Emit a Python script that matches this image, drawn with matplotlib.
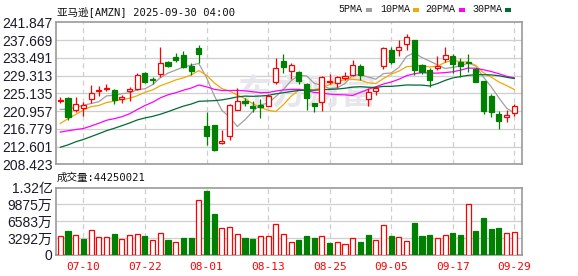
import numpy as np
import pandas as pd
import matplotlib
matplotlib.use("Agg")
import matplotlib.pyplot as plt
from matplotlib.patches import Rectangle

# 交易日 07-07 ~ 09-29
dates = ["07-07", "07-08", "07-09", "07-10", "07-11", "07-14", "07-15", "07-16", "07-17", "07-18",
         "07-21", "07-22", "07-23", "07-24", "07-25", "07-28", "07-29", "07-30", "07-31", "08-01",
         "08-04", "08-05", "08-06", "08-07", "08-08", "08-11", "08-12", "08-13", "08-14", "08-15",
         "08-18", "08-19", "08-20", "08-21", "08-22", "08-25", "08-26", "08-27", "08-28", "08-29",
         "09-02", "09-03", "09-04", "09-05", "09-08", "09-09", "09-10", "09-11", "09-12", "09-15",
         "09-16", "09-17", "09-18", "09-19", "09-22", "09-23", "09-24", "09-25", "09-26", "09-29"]

open_ = [223.35, 224.10, 221.26, 221.72, 223.87, 225.56, 226.10, 226.00, 223.72, 225.56,
         226.17, 230.00, 228.47, 229.62, 232.46, 233.61, 234.22, 231.61, 235.83, 217.51,
         217.58, 213.44, 215.13, 221.26, 223.41, 222.03, 222.34, 222.26, 227.78, 232.69,
         230.46, 230.23, 227.40, 222.80, 223.18, 227.70, 227.55, 228.70, 229.47, 231.54,
         223.87, 225.56, 231.54, 235.37, 235.37, 236.75, 237.75, 231.77, 230.62, 231.00,
         233.22, 233.84, 232.53, 232.40, 230.85, 228.09, 224.41, 220.27, 219.50, 220.42]
high = [224.30, 224.20, 224.33, 223.10, 227.17, 226.78, 227.30, 226.25, 224.64, 226.55,
        229.93, 230.20, 228.93, 236.14, 232.69, 234.60, 235.06, 232.15, 236.60, 220.65,
        217.74, 216.59, 222.64, 226.48, 224.03, 223.33, 223.72, 225.02, 233.45, 234.40,
        232.15, 230.46, 227.55, 222.95, 229.24, 229.62, 229.24, 230.08, 232.92, 232.00,
        226.40, 226.94, 235.98, 236.14, 237.67, 239.05, 237.75, 231.92, 231.15, 233.84,
        236.14, 234.45, 233.53, 234.30, 231.00, 228.09, 224.87, 220.88, 221.26, 222.72]
low = [222.80, 218.90, 220.65, 219.90, 222.95, 224.60, 225.60, 222.50, 222.95, 223.30,
       226.00, 227.55, 227.24, 229.08, 231.38, 232.46, 231.15, 229.47, 232.15, 212.90,
       211.60, 213.14, 214.13, 221.10, 222.18, 220.65, 219.42, 222.03, 227.32, 230.00,
       228.47, 227.40, 221.26, 220.80, 221.03, 227.40, 226.40, 228.16, 229.24, 228.32,
       222.18, 224.64, 230.92, 231.92, 233.84, 235.37, 229.47, 229.62, 226.55, 230.62,
       232.53, 229.85, 229.08, 230.08, 227.70, 220.27, 219.65, 216.67, 218.35, 219.73]
close = [223.55, 219.65, 222.72, 222.40, 225.25, 225.86, 226.35, 223.56, 224.18, 226.17,
         229.47, 227.70, 228.32, 232.38, 231.61, 233.00, 231.38, 230.46, 234.30, 215.05,
         211.84, 213.98, 222.49, 223.26, 222.95, 221.57, 221.80, 224.48, 231.00, 231.38,
         231.77, 228.09, 223.95, 222.26, 228.93, 228.00, 228.93, 229.24, 231.77, 229.47,
         225.48, 226.32, 235.83, 232.53, 235.98, 238.44, 230.62, 230.23, 228.32, 231.54,
         234.22, 231.92, 231.61, 232.15, 227.86, 221.03, 220.65, 218.58, 220.04, 222.18]
# 成交量(股)
volume = np.array([36.8, 46.5, 38.1, 31.0, 49.7, 34.2, 34.2, 40.7, 31.0, 38.1,
                   40.0, 36.8, 28.4, 42.0, 29.0, 24.5, 32.9, 32.9, 106.5, 123.9,
                   79.4, 52.3, 55.5, 40.0, 32.9, 31.0, 36.8, 36.8, 61.3, 40.0,
                   24.5, 29.0, 36.8, 32.9, 36.8, 23.2, 24.5, 20.7, 32.3, 25.2,
                   38.7, 28.4, 59.4, 36.8, 34.2, 26.5, 62.0, 36.8, 38.7, 32.3,
                   38.1, 42.6, 38.7, 100.1, 46.5, 72.3, 51.0, 52.9, 42.6, 44.250021]) * 1e6

# 之前29个交易日收盘价, 用于计算均线
prior_close = [203.10, 200.99, 206.02, 204.72, 205.70, 205.01, 206.65, 205.71, 207.23, 207.91,
               213.57, 216.98, 217.61, 213.20, 213.24, 212.10, 216.10, 214.82, 212.52, 209.69,
               208.47, 212.77, 211.99, 217.12, 223.30, 219.39, 220.46, 219.92, 223.41]

price_ticks = [208.423, 212.601, 216.779, 220.957, 225.135, 229.313, 233.491, 237.669, 241.847]
vol_ticks = [0, 32.92e6, 65.83e6, 98.75e6, 131.67e6]
vol_labels = ["0", "3292万", "6583万", "9875万", "1.32亿"]
tick_dates = ["07-10", "07-22", "08-01", "08-13", "08-25", "09-05", "09-17", "09-29"]

ma_names = ["5PMA", "10PMA", "20PMA", "30PMA"]
ma_days = [5, 10, 20, 30]
ma_colors = ["#a0a0a0", "#f5a800", "#ff00ff", "#006b32"]

RED = "#ff0000"
GREEN = "#008000"
GRID = "#cfcfcf"
FRAME = "#9a9a9a"
MONO = ["DejaVu Sans Mono", "Noto Sans CJK SC"]
SANS = ["Liberation Sans", "Noto Sans CJK SC"]

n = len(close)
x = np.arange(n)
o = np.array(open_); h = np.array(high); l = np.array(low); c = np.array(close)

allc = pd.Series(prior_close + close)
ma = {d: allc.rolling(d).mean().values[-n:] for d in ma_days}

up = c >= o
prev = np.array([prior_close[-1]] + close[:-1])
vol_up = c >= prev

W, H = 578, 276
fig = plt.figure(figsize=(W / 100, H / 100), dpi=100)

def frac(px, py):
    return px / W, 1 - py / H

ax = fig.add_axes([56 / W, 1 - 164.3 / H, 466 / W, 142 / H])
ax2 = fig.add_axes([56 / W, 1 - 255 / H, 466 / W, 67.5 / H])

tick_pos = [dates.index(d) for d in tick_dates]

for a in (ax, ax2):
    a.set_xlim(-0.56, n)
    for s in a.spines.values():
        s.set_color(FRAME)
        s.set_linewidth(1.2)
    a.tick_params(length=0, pad=2.5)
    for p in tick_pos:
        a.axvline(p, color=GRID, lw=0.9, ls=(0, (4, 3)), zorder=0)

# price panel
ax.set_ylim(price_ticks[0], price_ticks[-1])
ax.set_yticks(price_ticks)
ax.set_yticklabels([f"{v:.3f}" for v in price_ticks], fontsize=10, family=SANS, color="#1a1a2a")
for v in price_ticks[1:-1]:
    ax.axhline(v, color=GRID, lw=0.9, zorder=0)
ax.set_xticks([])

ax.text(0.54, 0.5, "东方财富", transform=ax.transAxes, fontsize=25, fontweight="bold",
        color="#e6e6ec", ha="center", va="center", family=["Noto Sans CJK SC"], zorder=0.5)

for d, col in zip(ma_days, ma_colors):
    ax.plot(x, ma[d], color=col, lw=0.9, zorder=2)

edge = np.where(up, RED, GREEN)
face = np.where(up, "white", GREEN)
ax.vlines(x, l, h, colors=edge, lw=0.9, zorder=3)
body_lo = np.minimum(o, c)
body_h = np.maximum(np.abs(c - o), 0.12)
ax.bar(x, body_h, bottom=body_lo, width=0.66, color=face, edgecolor=edge, linewidth=0.9, zorder=4)

# volume panel
ax2.set_ylim(0, vol_ticks[-1])
ax2.set_yticks(vol_ticks)
ax2.set_yticklabels(vol_labels, fontsize=10, family=SANS, color="#1a1a2a")
for v in vol_ticks[1:-1]:
    ax2.axhline(v, color=GRID, lw=0.9, zorder=0)
ax2.set_xticks(tick_pos)
ax2.set_xticklabels(tick_dates, fontsize=8, family=MONO, color=RED)
ax2.tick_params(axis="x", pad=5)
vedge = np.where(vol_up, RED, GREEN)
vface = np.where(vol_up, "white", GREEN)
ax2.bar(x, volume, width=0.66, color=vface, edgecolor=vedge, linewidth=0.9, zorder=3)

# texts
fig.text(*frac(57, 11.5), "亚马逊[AMZN] 2025-09-30 04:00", fontsize=7.6, family=MONO,
         color="#111111", va="center", ha="left")
fig.text(*frac(57, 178), f"成交量:{int(round(volume[-1]))}", fontsize=7.6, family=MONO,
         color="#111111", va="center", ha="left")

leg_x = [338, 380, 425, 472]
sq_x = [366, 413, 459, 505]
for name, col, tx, sx in zip(ma_names, ma_colors, leg_x, sq_x):
    fig.text(*frac(tx, 9.5), name, fontsize=7.2, family=["Liberation Mono"], color="#111111",
             va="center", ha="left")
    fig.patches.append(Rectangle(frac(sx, 11.5), 6 / W, 4 / H, transform=fig.transFigure,
                                 facecolor=col, edgecolor="none"))

fig.savefig("out.png", dpi=100)
